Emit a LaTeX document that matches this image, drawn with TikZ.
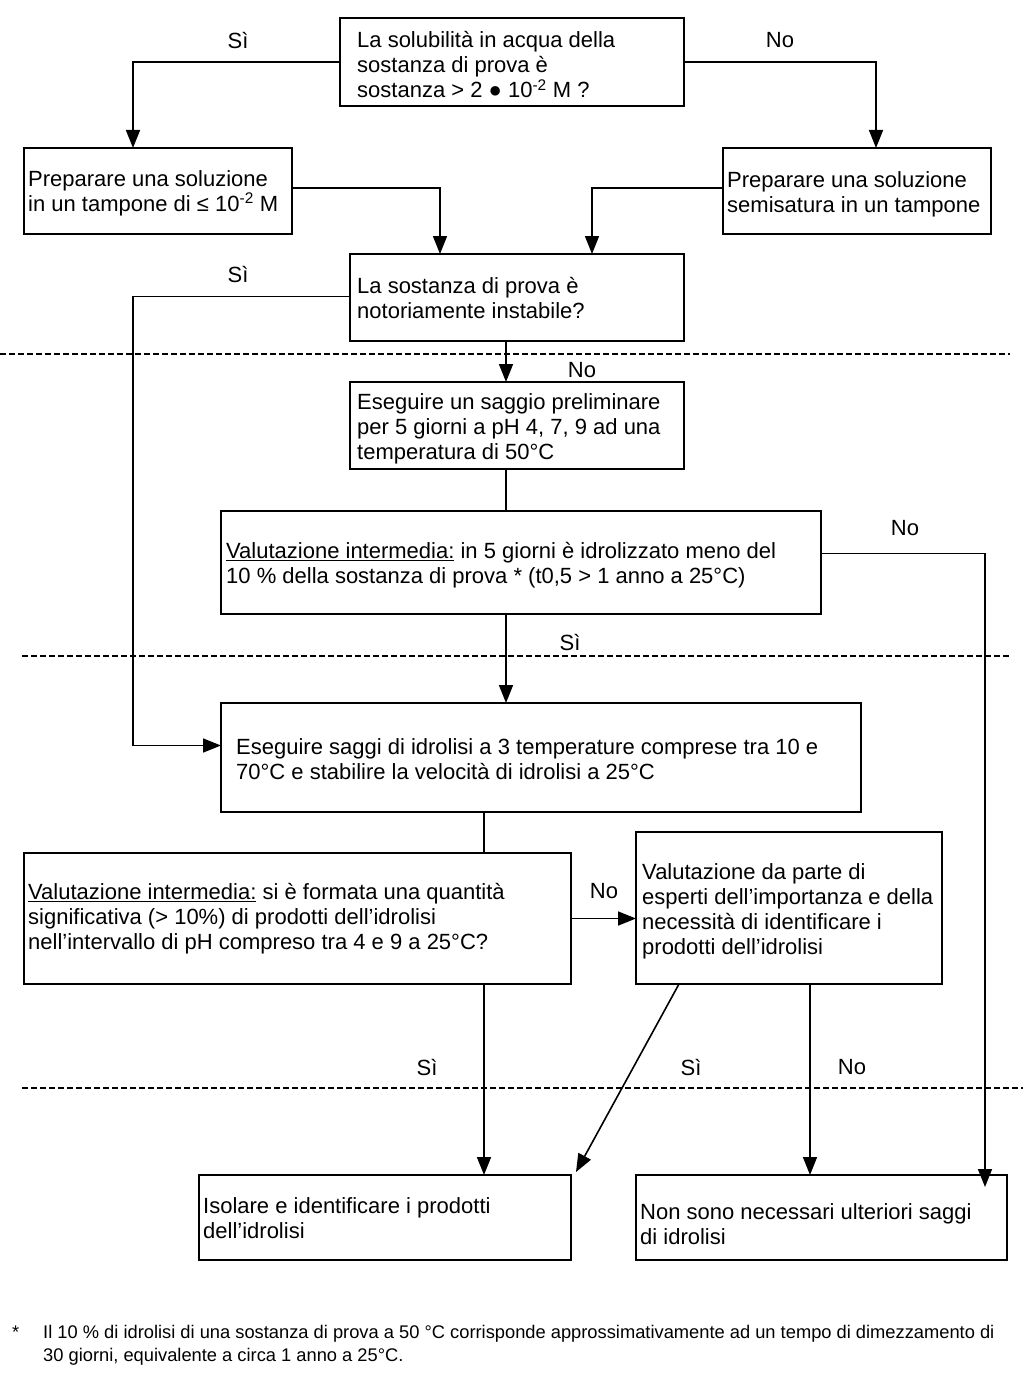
\documentclass[tikz,border=0pt]{standalone}
\usepackage{fontspec}
\setmainfont{Liberation Sans}
\usetikzlibrary{arrows.meta,calc}
\newcommand\bx[5]{\node[box, minimum width={#4-#2}, minimum height={#5-#3}] (#1) at ({(#2+#4)/2},{(#3+#5)/2}) {};}
\begin{document}
\begin{tikzpicture}[x=1pt,y=-1pt,
 box/.style={draw, line width=1.9pt, inner sep=0pt, outer sep=0pt},
 txt/.style={align=left, inner sep=0pt, font=\fontsize{22}{25}\selectfont, anchor=west},
 lbl/.style={inner sep=0pt, font=\fontsize{22}{25}\selectfont},
 conn/.style={line width=1.6pt},
 arr/.style={conn, -{Triangle[width=14pt,length=18pt]}},
 sep/.style={line width=1.5pt, dash pattern=on 6pt off 3pt}]
\useasboundingbox[fill=white] (0,0) rectangle (1023,1378);

% boxes
\bx{A}{340}{18}{684}{106}
\bx{B}{24}{148}{292}{234}
\bx{C}{723}{148}{991}{234}
\bx{D}{350}{254}{684}{341}
\bx{E}{350}{382}{684}{469}
\bx{G}{221}{511}{821}{614}
\bx{F}{221}{703}{861}{812}
\bx{H}{24}{853}{571}{984}
\bx{I}{636}{832}{942}{984}
\bx{K}{199}{1175}{571}{1260}
\bx{J}{636}{1175}{1007}{1260}

% texts
\node[txt] (At) at ([xshift=17pt,yshift=-3pt]A.west) {La solubilità in acqua della\\sostanza di prova è\\sostanza > 2 ● 10\textsuperscript{-2} M ?};
\node[txt] (Bt) at ([xshift=4pt,yshift=-2pt]B.west) {Preparare una soluzione\\in un tampone di ≤ 10\textsuperscript{-2} M};
\node[txt] (Ct) at ([xshift=4pt,yshift=-3pt]C.west) {Preparare una soluzione\\semisatura in un tampone};
\node[txt] (Dt) at ([xshift=7pt,yshift=-1pt]D.west) {La sostanza di prova è\\notoriamente instabile?};
\node[txt] (Et) at ([xshift=7pt,yshift=-3pt]E.west) {Eseguire un saggio preliminare\\per 5 giorni a pH 4, 7, 9 ad una\\temperatura di 50°C};
\node[txt] (Gt) at ([xshift=5pt,yshift=-3pt]G.west) {\underline{Valutazione intermedia:} in 5 giorni è idrolizzato meno del\\10 \% della sostanza di prova * (t0,5 > 1 anno a 25°C)};
\node[txt] (Ft) at ([xshift=15pt,yshift=-2pt]F.west) {Eseguire saggi di idrolisi a 3 temperature comprese tra 10 e\\70°C e stabilire la velocità di idrolisi a 25°C};
\node[txt] (Ht) at ([xshift=4pt]H.west) {\underline{Valutazione intermedia:} si è formata una quantità\\significativa (> 10\%) di prodotti dell’idrolisi\\nell’intervallo di pH compreso tra 4 e 9 a 25°C?};
\node[txt] (It) at ([xshift=6pt,yshift=-3pt]I.west) {Valutazione da parte di\\esperti dell’importanza e della\\necessità di identificare i\\prodotti dell’idrolisi};
\node[txt] (Kt) at ([xshift=4pt,yshift=-1pt]K.west) {Isolare e identificare i prodotti\\dell’idrolisi};
\node[txt] (Jt) at ([xshift=4pt,yshift=-7pt]J.west) {Non sono necessari ulteriori saggi\\di idrolisi};

% labels
\node[lbl] (l1) at (238,41) {Sì};
\node[lbl] (l2) at (780,40) {No};
\node[lbl] (l3) at (238,275) {Sì};
\node[lbl] (l4) at (582,370) {No};
\node[lbl] (l5) at (905,528) {No};
\node[lbl] (l6) at (570,643) {Sì};
\node[lbl] (l7) at (604,891) {No};
\node[lbl] (l8) at (427,1067) {Sì};
\node[lbl] (l9) at (691,1067) {Sì};
\node[lbl] (l10) at (852,1067) {No};

% column coordinates
\coordinate (colL) at (133,0);
\coordinate (colR) at (985,0);

% connectors
\draw[arr] (A.west) -| ([xshift=-25pt]B.north);
\draw[arr] (A.east) -| ([xshift=19pt]C.north);
\draw[arr] ([yshift=3pt]B.east) -| ([xshift=-77pt]D.north);
\draw[arr] ([yshift=3pt]C.west) -| ([xshift=75pt]D.north);
\draw[arr] ([yshift=1pt]D.west) -- ([yshift=1pt]D.west -| colL) |- ([yshift=12pt]F.west);
\draw[arr] ([xshift=-11pt]D.south) -- ([xshift=-11pt]D.south |- E.north);
\draw[conn] ([xshift=-11pt]E.south) -- ([xshift=-11pt]E.south |- G.north);
\draw[arr] ([yshift=9pt]G.east) -- ([yshift=9pt]G.east -| colR) -- ([yshift=-12pt]colR |- J.north);
\draw[arr] ([xshift=-15pt]G.south) -- ([xshift=-15pt]G.south |- F.north);
\draw[conn] ([xshift=-57pt]F.south) -- ([xshift=-57pt]F.south |- H.north);
\draw[arr] (H.east) -- (H.east -| I.west);
\draw[arr] ([xshift=186.5pt]H.south) -- ([xshift=186.5pt]H.south |- K.north);
\draw[arr] ([xshift=43pt]I.south west) -- ([xshift=5pt,yshift=3pt]K.north east);
\draw[arr] ([xshift=174pt]I.south west) -- ([xshift=174pt]I.south west |- J.north);

% separators
\draw[sep] (0,354) -- (1010,354);
\draw[sep] (22,656) -- (1010,656);
\draw[sep] (22,1088) -- (1023,1088);

% footnote
\node[lbl, font=\fontsize{18.3}{23}\selectfont, anchor=base west] (fs) at (12,1338) {*};
\node[lbl, font=\fontsize{18.3}{23}\selectfont, anchor=north west, align=left] (fn) at (43,1325) {Il 10 \% di idrolisi di una sostanza di prova a 50 °C corrisponde approssimativamente ad un tempo di dimezzamento di\\30 giorni, equivalente a circa 1 anno a 25°C.};
\end{tikzpicture}
\end{document}
